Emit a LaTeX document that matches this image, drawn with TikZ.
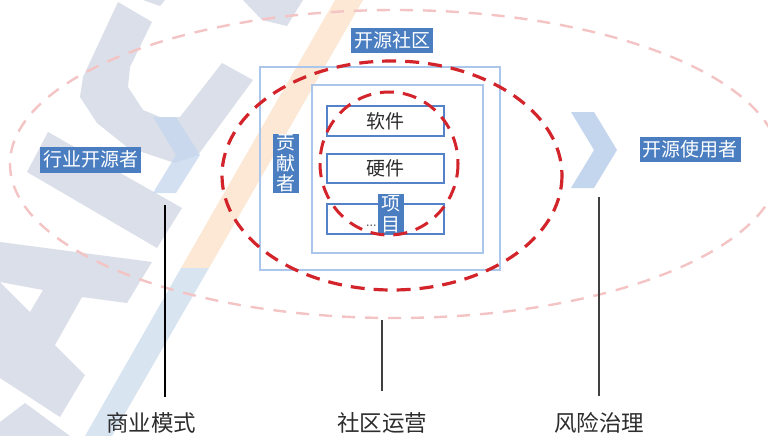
\documentclass[tikz,border=0pt]{standalone}
\usepackage{fontspec}
\newfontfamily\cjk{Noto Sans CJK SC}
\definecolor{labblue}{RGB}{74,126,193}
\definecolor{itemblue}{RGB}{84,130,200}
\definecolor{rectblue}{RGB}{170,198,234}
\definecolor{pinkdash}{RGB}{244,196,196}
\definecolor{reddash}{RGB}{210,36,42}
\definecolor{chev}{RGB}{196,214,238}
\definecolor{wmgray}{RGB}{219,223,233}
\definecolor{wmblue}{RGB}{216,229,241}
\definecolor{wmorange}{RGB}{252,232,213}
\definecolor{txtgray}{RGB}{45,45,45}
\begin{document}
\begin{tikzpicture}[x=1pt,y=-1pt,
  lab/.style={fill=labblue,text=white,font=\cjk\fontsize{19}{19}\selectfont,
    inner xsep=3pt,inner ysep=3pt,text height=16.5pt,text depth=3pt},
  vlab/.style={fill=labblue,text=white,font=\cjk\fontsize{19}{20.5}\selectfont,
    align=center,inner xsep=3.5pt,inner ysep=1pt},
  itembox/.style={draw=itemblue,line width=1.4pt,minimum width=117pt,minimum height=30pt,
    inner sep=0pt,font=\cjk\fontsize{19}{19}\selectfont,text=txtgray},
  framebox/.style={draw=rectblue,line width=1.2pt,inner sep=0pt},
  bottomlab/.style={font=\cjk\fontsize{22.5}{22.5}\selectfont,text=txtgray},
  pinkring/.style={draw=pinkdash,line width=2.4pt,dash pattern=on 13pt off 10pt},
  redring/.style={draw=reddash,line width=3.2pt,dash pattern=on 14pt off 9pt},
  chevron/.style={fill=chev},
  wm/.style={fill=wmgray},
  leader/.style={line width=1.3pt}
]
\useasboundingbox (0,0) rectangle (768,436);
\fill[white] (0,0) rectangle (768,436);

% --- background watermark ---
\fill[wmorange] (335,0) -- (363,0) -- (209,268) -- (181,268) -- cycle;
\fill[wmblue] (181,268) -- (209,268) -- (112,436) -- (85,436) -- cycle;
\fill[wm] (118,2) -- (152,22) -- (130,67) -- (128,87) -- (143,110) -- (160,117) -- (180,117)
  -- (222,63) -- (253,80) -- (198,155) -- (175,163) -- (160,158) -- (127,147) -- (97,123)
  -- (80,97) -- (83,77) -- cycle;
\fill[wm] (48,132) -- (182,208) -- (157,248) -- (27,172) -- cycle;
\fill[wm,even odd rule] (0,242) -- (152,262) -- (127,303) -- (82,297) -- (55,345) -- (85,375)
  -- (60,417) -- (0,378) -- cycle
  (0,282) -- (43,290) -- (30,312) -- cycle;
\fill[wm] (25,403) -- (70,436) -- (0,436) -- (0,422) -- cycle;
\fill[wm] (243,0) -- (303,0) -- (287,26) -- (262,20) -- cycle;
\fill[wm] (143,0) -- (165,0) -- (160,6) -- cycle;

% --- outer pink ring ---
\draw[pinkring] (395,164) ellipse [x radius=385, y radius=154];

% --- chevrons ---
\fill[chevron,fill opacity=0.75] (153,117) -- (176,117) -- (200,155) -- (176,193) -- (153,193) -- (176,155) -- cycle;
\fill[chevron] (571,112) -- (594,112) -- (617,150) -- (594,188) -- (571,188) -- (594,150) -- cycle;

% --- frames ---
\node[framebox,minimum width=240pt,minimum height=203pt] (community) at (380,168.5) {};
\node[framebox,minimum width=171pt,minimum height=168pt] (inner) at (397.5,169) {};

\node[itembox] (soft) at (385.5,121) {软件};
\node[itembox,minimum height=29pt] (hard) at (385.5,168.5) {硬件};
\node[itembox] (other) at (385.5,219) {};
\node[anchor=west,font=\bfseries\fontsize{11}{11}\selectfont,text=black!70,inner sep=0pt] (dots) at (366,226) {...};

% --- labels ---
\node[lab] (commlab) at (392,40.5) {开源社区};
\node[lab] (industry) at (90.5,160) {行业开源者};
\node[lab] (users) at (690,149.5) {开源使用者};
\node[vlab] (contrib) at (286,163.5) {贡\\献\\者};
\node[vlab] (project) at (390.5,214) {项\\目};

% --- red rings ---
\draw[redring] (392,175.5) ellipse [x radius=170, y radius=114.5];
\draw[redring,line width=3pt] (389,163.5) ellipse [x radius=69, y radius=71.5];

% --- leaders and bottom labels ---
\node[bottomlab] (biz) at (151,423) {商业模式};
\node[bottomlab] (ops) at (382,423) {社区运营};
\node[bottomlab] (risk) at (599,423) {风险治理};
\coordinate (bizTop) at (165,205);
\coordinate (bizBot) at (165,397);
\coordinate (opsTop) at (382,320);
\coordinate (opsBot) at (382,391);
\coordinate (riskTop) at (599,197);
\coordinate (riskBot) at (599,396);
\draw[leader,black] (bizTop) -- (bizBot);
\draw[leader,black!75] (opsTop) -- (opsBot);
\draw[leader,black!75] (riskTop) -- (riskBot);
\end{tikzpicture}
\end{document}
